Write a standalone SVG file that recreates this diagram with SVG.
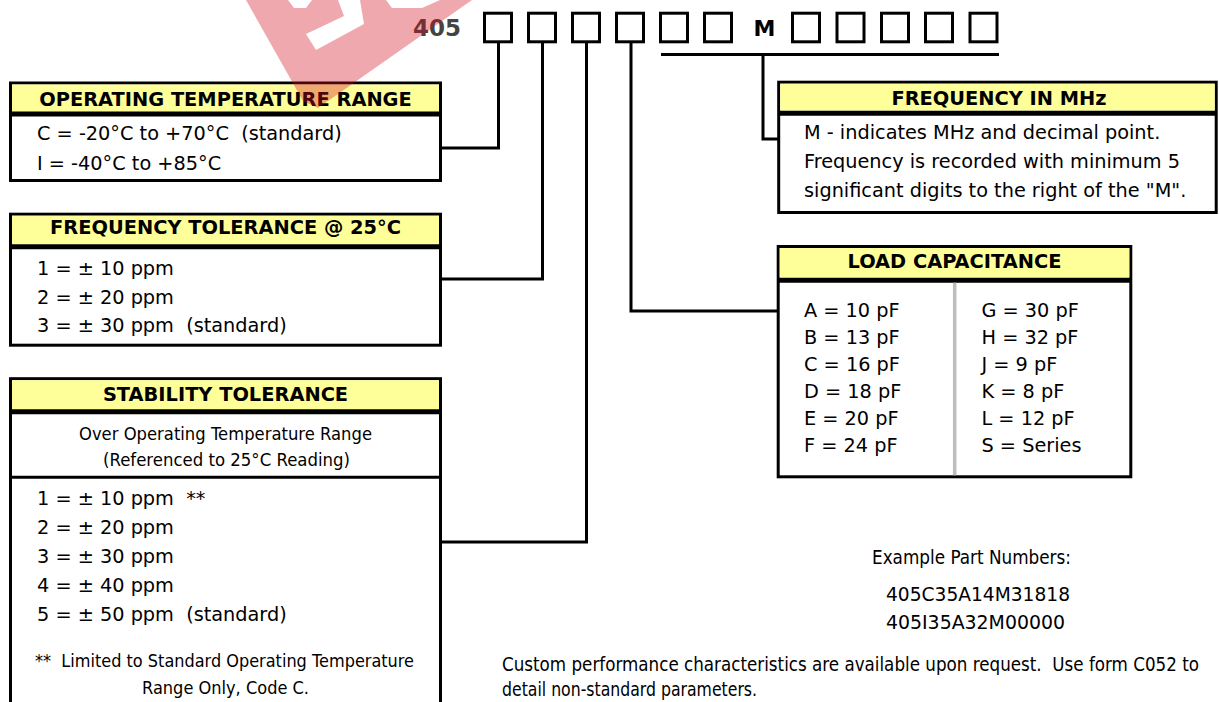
<svg xmlns="http://www.w3.org/2000/svg" width="1219" height="702" viewBox="0 0 1219 702">
<style>
.bx{fill:#fff;stroke:#000;stroke-width:3}
.hd{fill:#ffff99}
.dv{stroke:#000;stroke-width:5}
.ht{font-family:"DejaVu Sans",Verdana,sans-serif;font-weight:bold;font-size:19.4px;fill:#000;text-anchor:middle}
.t{font-family:"DejaVu Sans",Verdana,sans-serif;font-size:19.3px;fill:#000}
.tc{font-family:"DejaVu Sans",Verdana,sans-serif;font-size:18px;fill:#000;text-anchor:middle}
.n{font-family:"Liberation Sans Narrow","DejaVu Sans Condensed","Liberation Sans",sans-serif;font-size:19px;fill:#000}
.sq{fill:none;stroke:#000;stroke-width:3}
.cn{fill:none;stroke:#000;stroke-width:3}
</style>
<rect width="1219" height="702" fill="#fff"/>

<g id="partnumber">
<text x="413" y="36" font-family="DejaVu Sans,Verdana,sans-serif" font-weight="bold" font-size="23" fill="#444">405</text>
<rect class="sq" x="484.5" y="13.2" width="27" height="28.6"/>
<rect class="sq" x="528.5" y="13.2" width="27" height="28.6"/>
<rect class="sq" x="572.5" y="13.2" width="27" height="28.6"/>
<rect class="sq" x="616.5" y="13.2" width="27" height="28.6"/>
<rect class="sq" x="660.5" y="13.2" width="27" height="28.6"/>
<rect class="sq" x="704.5" y="13.2" width="27" height="28.6"/>
<text x="764.5" y="36" text-anchor="middle" font-family="DejaVu Sans,Verdana,sans-serif" font-weight="bold" font-size="22" fill="#000">M</text>
<rect class="sq" x="792.5" y="13.2" width="27" height="28.6"/>
<rect class="sq" x="837" y="13.2" width="27" height="28.6"/>
<rect class="sq" x="881.5" y="13.2" width="27" height="28.6"/>
<rect class="sq" x="925.5" y="13.2" width="27" height="28.6"/>
<rect class="sq" x="970" y="13.2" width="27" height="28.6"/>
</g>

<g id="connectors">
<polyline class="cn" points="498.5,43 498.5,148 442,148"/>
<polyline class="cn" points="542.5,43 542.5,279 442,279"/>
<polyline class="cn" points="586.5,43 586.5,542 442,542"/>
<polyline class="cn" points="631,43 631,311 778,311"/>
<line class="cn" x1="661" y1="54.5" x2="999" y2="54.5"/>
<polyline class="cn" points="763,54.5 763,139 778,139"/>
</g>

<g id="operating-temperature">
<rect class="bx" x="10.5" y="83" width="430" height="97.5"/>
<rect class="hd" x="12" y="84.5" width="427" height="28"/>
<line class="dv" x1="10.5" y1="114" x2="440.5" y2="114" stroke-width="4.5"/>
<text class="ht" x="225.5" y="105.5">OPERATING TEMPERATURE RANGE</text>
<text class="t" x="37" y="140" xml:space="preserve">C = -20°C to +70°C  (standard)</text>
<text class="t" x="37" y="170">I = -40°C to +85°C</text>
</g>

<g id="frequency-tolerance">
<rect class="bx" x="10.5" y="214.2" width="430" height="131"/>
<rect class="hd" x="12" y="215.7" width="427" height="28.6"/>
<line class="dv" x1="10.5" y1="246.8" x2="440.5" y2="246.8"/>
<text class="ht" x="225.5" y="234.3">FREQUENCY TOLERANCE @ 25°C</text>
<text class="t" x="37" y="275">1 = ± 10 ppm</text>
<text class="t" x="37" y="303.5">2 = ± 20 ppm</text>
<text class="t" x="37" y="332" xml:space="preserve">3 = ± 30 ppm  (standard)</text>
</g>

<g id="stability-tolerance">
<rect class="bx" x="10.5" y="378.7" width="430" height="340"/>
<rect class="hd" x="12" y="380.2" width="427" height="29"/>
<line class="dv" x1="10.5" y1="411.7" x2="440.5" y2="411.7"/>
<line x1="10.5" y1="477.3" x2="440.5" y2="477.3" stroke="#000" stroke-width="3"/>
<text class="ht" x="225.5" y="400.7">STABILITY TOLERANCE</text>
<text class="tc" x="225.5" y="440" textLength="293" lengthAdjust="spacingAndGlyphs">Over Operating Temperature Range</text>
<text class="tc" x="226.5" y="466" textLength="247" lengthAdjust="spacingAndGlyphs">(Referenced to 25°C Reading)</text>
<text class="t" x="37" y="505" xml:space="preserve">1 = ± 10 ppm  **</text>
<text class="t" x="37" y="534">2 = ± 20 ppm</text>
<text class="t" x="37" y="563">3 = ± 30 ppm</text>
<text class="t" x="37" y="592">4 = ± 40 ppm</text>
<text class="t" x="37" y="620.5" xml:space="preserve">5 = ± 50 ppm  (standard)</text>
<text class="tc" x="224.5" y="667" textLength="379" lengthAdjust="spacingAndGlyphs" xml:space="preserve">**  Limited to Standard Operating Temperature</text>
<text class="tc" x="225.5" y="693.5" textLength="167" lengthAdjust="spacingAndGlyphs">Range Only, Code C.</text>
</g>

<g id="frequency-mhz">
<rect class="bx" x="778.7" y="82.2" width="437.5" height="130.3"/>
<rect class="hd" x="780.2" y="83.7" width="434.5" height="27"/>
<line class="dv" x1="778.7" y1="113.3" x2="1216.2" y2="113.3"/>
<text class="ht" x="999" y="105">FREQUENCY IN MHz</text>
<text class="t" x="804" y="139">M - indicates MHz and decimal point.</text>
<text class="t" x="804" y="168">Frequency is recorded with minimum 5</text>
<text class="t" x="804" y="196.5">significant digits to the right of the "M".</text>
</g>

<g id="load-capacitance">
<rect class="bx" x="778.2" y="246.5" width="352.6" height="230.3"/>
<rect class="hd" x="779.7" y="248" width="349.6" height="29.5"/>
<line class="dv" x1="778.2" y1="280.3" x2="1130.8" y2="280.3"/>
<line x1="954.7" y1="282.8" x2="954.7" y2="475.3" stroke="#bdbdbd" stroke-width="3.5"/>
<text class="ht" x="954.5" y="268.3">LOAD CAPACITANCE</text>
<text class="t" x="804" y="316.5">A = 10 pF</text>
<text class="t" x="804" y="343.5">B = 13 pF</text>
<text class="t" x="804" y="370.5">C = 16 pF</text>
<text class="t" x="804" y="397.5">D = 18 pF</text>
<text class="t" x="804" y="424.5">E = 20 pF</text>
<text class="t" x="804" y="451.5">F = 24 pF</text>
<text class="t" x="981.5" y="316.5">G = 30 pF</text>
<text class="t" x="981.5" y="343.5">H = 32 pF</text>
<text class="t" x="981.5" y="370.5">J = 9 pF</text>
<text class="t" x="981.5" y="397.5">K = 8 pF</text>
<text class="t" x="981.5" y="424.5">L = 12 pF</text>
<text class="t" x="981.5" y="451.5">S = Series</text>
</g>

<g id="examples">
<text class="n" x="872" y="564" textLength="199" lengthAdjust="spacingAndGlyphs">Example Part Numbers:</text>
<text class="n" x="886" y="601" textLength="184" lengthAdjust="spacingAndGlyphs">405C35A14M31818</text>
<text class="n" x="886" y="629" textLength="179" lengthAdjust="spacingAndGlyphs">405I35A32M00000</text>
</g>

<g id="note">
<text class="n" x="502" y="671" textLength="697" lengthAdjust="spacingAndGlyphs" xml:space="preserve">Custom performance characteristics are available upon request.  Use form C052 to</text>
<text class="n" x="502" y="696" textLength="255" lengthAdjust="spacingAndGlyphs">detail non-standard parameters.</text>
</g>

<g id="watermark" opacity="0.36">
<path d="M246,0 L472,0 L318,108 L303,101 Z M288,0 L312,0 L306,8 L294,8 Z M338,0 L360,0 L364,24 L316,50 L306,34 L344,16 Z M386,0 L440,0 L422,8 L392,8 Z" fill="#d4101e" fill-rule="evenodd"/>
</g>
</svg>
